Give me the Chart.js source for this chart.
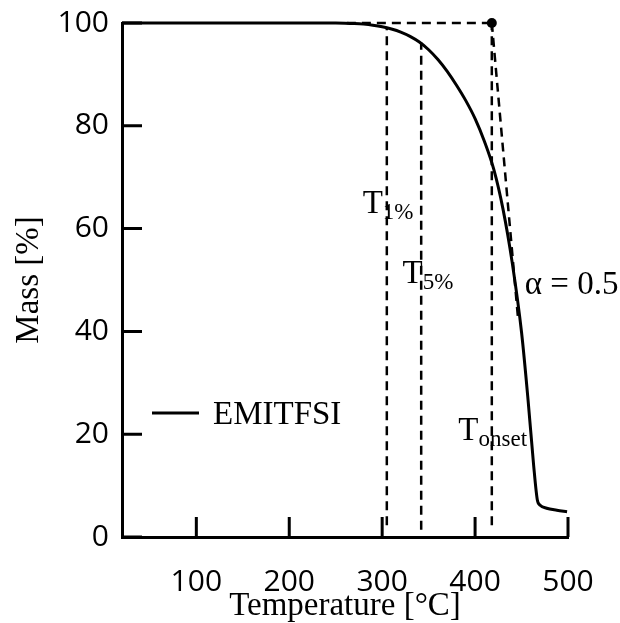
<!DOCTYPE html>
<html>
<head>
<meta charset="utf-8">
<script src="https://cdn.jsdelivr.net/npm/chart.js@4.4.1/dist/chart.umd.min.js"></script>
<style>
  html, body { margin: 0; padding: 0; background: #fff; }
  #wrap { width: 620px; height: 623px; }
</style>
</head>
<body>
<div id="wrap"><canvas id="tga" width="620" height="623"></canvas></div>
<script>
// Thermogravimetric curve of EMITFSI (mass vs. temperature)
const temperature = [20, 100, 200, 250, 260, 270, 280, 290, 300, 310, 320, 330, 340, 350, 360, 370, 380, 390, 400, 410, 420, 430, 440, 450, 457, 463, 467, 470, 477, 488, 499];
const massPercent = [100, 100, 100, 100, 99.97, 99.9, 99.78, 99.58, 99.28, 98.83, 98.23, 97.4, 96.3, 94.8, 92.9, 90.6, 87.9, 84.9, 81.4, 77.0, 71.6, 63.83, 53.33, 39.83, 26.7, 14.0, 7.2, 6.2, 5.6, 5.2, 4.9];

const xTickValues = [100, 200, 300, 400, 500];
const yTickValues = [0, 20, 40, 60, 80, 100];

// characteristic temperatures (T1%, T5%, Tonset)
const markerSubscripts = ['1%', '5%', 'onset'];
const markerTemps = [305, 342, 418];
const markerTops = [99.0, 96.2, 100];
const markerBottoms = [2.3, 1.4, 2.3];

// onset construction: baseline at 100 % and tangent through alpha = 0.5
const baselineFrom = 262;
const baselineMass = 100;
const tangentEndTemp = 446;
const tangentEndMass = 43;
const alphaText = 'α = 0.5';

// label anchors (data units: temperature, mass at text baseline)
const markerLabelAt = [[279, 63.0], [322, 49.4], [382, 18.9]];
const alphaLabelAt = [453.5, 47.3];

const SERIF = '"Liberation Serif", "Times New Roman", serif';
const SANS = '"Open Sans", "Noto Sans", sans-serif';
const DASH = [9, 6];

const datasets = [{
  label: 'EMITFSI',
  data: temperature.map((t, i) => ({ x: t, y: massPercent[i] })),
  borderColor: '#000',
  borderWidth: 3,
  pointRadius: 0,
  cubicInterpolationMode: 'monotone',
  clip: 10,
  order: 0
}];

markerTemps.forEach((t, i) => {
  datasets.push({
    label: 'T' + markerSubscripts[i],
    data: [{ x: t, y: markerBottoms[i] }, { x: t, y: markerTops[i] }],
    borderColor: '#000',
    borderWidth: 2.5,
    borderDash: DASH,
    pointRadius: 0,
    clip: 10,
    order: 1
  });
});

datasets.push({
  label: 'baseline',
  data: [{ x: baselineFrom, y: baselineMass }, { x: markerTemps[2], y: baselineMass }],
  borderColor: '#000', borderWidth: 2.5, borderDash: DASH, pointRadius: 0, clip: 10, order: 1
});
datasets.push({
  label: 'tangent',
  data: [{ x: markerTemps[2], y: baselineMass }, { x: tangentEndTemp, y: tangentEndMass }],
  borderColor: '#000', borderWidth: 2.5, borderDash: DASH, pointRadius: 0, clip: 10, order: 1
});
datasets.push({
  label: 'onset point',
  data: [{ x: markerTemps[2], y: baselineMass }],
  showLine: false,
  pointRadius: 5,
  pointBackgroundColor: '#000',
  pointBorderColor: '#000',
  pointBorderWidth: 0,
  clip: 10,
  order: 1
});

// tick marks drawn inward from the axes
const innerTicks = {
  id: 'innerTicks',
  afterDatasetsDraw(chart) {
    const { ctx, chartArea: a, scales: { x, y } } = chart;
    const len = 20;
    ctx.save();
    ctx.strokeStyle = '#000';
    ctx.lineWidth = 3;
    ctx.beginPath();
    x.ticks.forEach(tk => {
      const px = x.getPixelForValue(tk.value);
      ctx.moveTo(px, a.bottom);
      ctx.lineTo(px, a.bottom - len);
    });
    y.ticks.forEach(tk => {
      const py = y.getPixelForValue(tk.value);
      ctx.moveTo(a.left, py);
      ctx.lineTo(a.left + len, py);
    });
    ctx.stroke();
    ctx.restore();
  }
};

// text annotations and the in-plot legend
const annotations = {
  id: 'annotations',
  afterDraw(chart) {
    const { ctx, chartArea: a, scales: { x, y } } = chart;
    ctx.save();
    ctx.fillStyle = '#000';
    ctx.textAlign = 'left';
    ctx.textBaseline = 'alphabetic';

    markerSubscripts.forEach((sub, i) => {
      const px = x.getPixelForValue(markerLabelAt[i][0]);
      const py = y.getPixelForValue(markerLabelAt[i][1]);
      ctx.font = '33px ' + SERIF;
      ctx.fillText('T', px, py);
      const w = ctx.measureText('T').width;
      ctx.font = '23px ' + SERIF;
      ctx.fillText(sub, px + w, py + 6);
    });

    ctx.font = '33px ' + SERIF;
    ctx.fillText(alphaText, x.getPixelForValue(alphaLabelAt[0]), y.getPixelForValue(alphaLabelAt[1]));

    // legend
    const ly = a.top + 390;
    ctx.strokeStyle = '#000';
    ctx.lineWidth = 3;
    ctx.beginPath();
    ctx.moveTo(a.left + 30, ly);
    ctx.lineTo(a.left + 77, ly);
    ctx.stroke();
    ctx.font = '33px ' + SERIF;
    ctx.fillText(chart.data.datasets[0].label, a.left + 91, ly + 11);
    ctx.restore();
  }
};

new Chart(document.getElementById('tga'), {
  type: 'line',
  data: { datasets },
  options: {
    responsive: false,
    animation: false,
    devicePixelRatio: 1,
    layout: { autoPadding: false, padding: { top: 23, right: 52, bottom: 0, left: 0 } },
    plugins: {
      legend: { display: false },
      tooltip: { enabled: false }
    },
    scales: {
      x: {
        type: 'linear',
        min: 20,
        max: 500,
        afterBuildTicks: s => { s.ticks = xTickValues.map(v => ({ value: v })); },
        afterFit: s => { s.height = 86; },
        grid: { display: false },
        border: { display: true, width: 3, color: '#000' },
        ticks: {
          color: '#000',
          font: { family: SANS, size: 30, lineHeight: 1.2 },
          padding: 19,
          maxRotation: 0,
          autoSkip: false
        },
        title: {
          display: true,
          text: 'Temperature [°C]',
          color: '#000',
          font: { family: SERIF, size: 33, lineHeight: 1 },
          padding: { top: 0, bottom: 0 }
        }
      },
      y: {
        type: 'linear',
        min: 0,
        max: 100,
        afterBuildTicks: s => { s.ticks = yTickValues.map(v => ({ value: v })); },
        afterFit: s => { s.width = 122; },
        grid: { display: false },
        border: { display: true, width: 3, color: '#000' },
        ticks: {
          color: '#000',
          font: { family: SANS, size: 30, lineHeight: 1 },
          padding: 5
        },
        title: {
          display: true,
          text: 'Mass [%]',
          color: '#000',
          font: { family: SERIF, size: 33, lineHeight: 1 },
          padding: { top: 13, bottom: 0 }
        }
      }
    }
  },
  plugins: [innerTicks, annotations]
});
</script>
</body>
</html>
